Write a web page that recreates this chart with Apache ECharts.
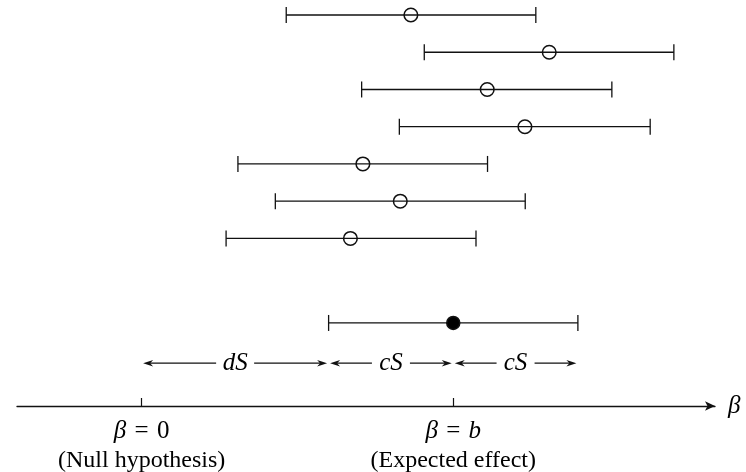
<!DOCTYPE html>
<html>
<head>
<meta charset="utf-8">
<script src="https://cdn.jsdelivr.net/npm/echarts@6/dist/echarts.min.js"></script>
<style>html,body{margin:0;padding:0;background:#fff}#chart{width:746px;height:472px}</style>
</head>
<body>
<div id="chart"></div>
<script>
// Simulated trial confidence intervals (x in units where b = 10)
const trialLower    = [4.64, 9.07, 7.06, 8.27, 3.09, 4.29, 2.71];
const trialEstimate = [8.64, 13.08, 11.09, 12.30, 7.10, 8.30, 6.70];
const trialUpper    = [12.65, 17.08, 15.09, 16.32, 11.10, 12.31, 10.73];
const trialRow      = [10.5, 9.5, 8.5, 7.5, 6.5, 5.5, 4.5];

// Expected-effect interval (filled point)
const expectedInterval = [6, 10, 14];   // lower, estimate, upper
const expectedRow = 2.23;

// Dimension arrows
const spanStart  = [0, 6, 10];
const spanEnd    = [6, 10, 14];
const spanLabels = ['dS', 'cS', 'cS'];
const spanRow = 1.15;

// Axis ticks
const tickValues = [0, 10];
const tickRhs    = ['0', 'b'];
const tickNotes  = ['(Null hypothesis)', '(Expected effect)'];

const FONT = 'Liberation Serif';
const INK = '#111';

const intervalData = trialLower.map((lo, i) => [lo, trialEstimate[i], trialUpper[i], trialRow[i], 0]);
intervalData.push([expectedInterval[0], expectedInterval[1], expectedInterval[2], expectedRow, 1]);

const spanData = spanStart.map((s, i) => [s, spanEnd[i], spanRow, i]);

function renderInterval(params, api) {
  const lo = api.coord([api.value(0), api.value(3)]);
  const c  = api.coord([api.value(1), api.value(3)]);
  const hi = api.coord([api.value(2), api.value(3)]);
  const filled = api.value(4) === 1;
  const cap = 8;
  const ls = { stroke: INK, lineWidth: 1.3 };
  return {
    type: 'group',
    children: [
      { type: 'line', shape: { x1: lo[0], y1: lo[1], x2: hi[0], y2: hi[1] }, style: ls },
      { type: 'line', shape: { x1: lo[0], y1: lo[1] - cap, x2: lo[0], y2: lo[1] + cap }, style: ls },
      { type: 'line', shape: { x1: hi[0], y1: hi[1] - cap, x2: hi[0], y2: hi[1] + cap }, style: ls },
      { type: 'circle', shape: { cx: c[0], cy: c[1], r: filled ? 6.5 : 6.8 },
        style: { fill: filled ? '#000' : 'none', stroke: INK, lineWidth: 1.5 } }
    ]
  };
}

function arrowHead(tipX, y, dir) {
  // dir = -1 points left, +1 points right
  const len = 10, half = 3.2;
  return {
    type: 'polygon',
    shape: { points: [[tipX, y], [tipX - dir * len, y - half], [tipX - dir * len * 0.7, y], [tipX - dir * len, y + half]] },
    style: { fill: INK }
  };
}

function renderSpan(params, api) {
  const a = api.coord([api.value(0), api.value(2)]);
  const b = api.coord([api.value(1), api.value(2)]);
  const label = spanLabels[api.value(3)];
  const y = a[1];
  const x0 = a[0] + 1.5, x1 = b[0] - 1.5;
  const mid = (a[0] + b[0]) / 2;
  const gap = 19;
  const ls = { stroke: INK, lineWidth: 1.2 };
  return {
    type: 'group',
    children: [
      { type: 'line', shape: { x1: x0 + 4, y1: y, x2: mid - gap, y2: y }, style: ls },
      { type: 'line', shape: { x1: mid + gap, y1: y, x2: x1 - 4, y2: y }, style: ls },
      arrowHead(x0, y, -1),
      arrowHead(x1, y, 1),
      { type: 'text', style: { text: label, x: mid, y: y, textAlign: 'center', textVerticalAlign: 'middle',
        fontStyle: 'italic', fontSize: 25, fontFamily: FONT, fill: '#000' } }
    ]
  };
}

const chart = echarts.init(document.getElementById('chart'), null, { renderer: 'canvas' });
chart.setOption({
  animation: false,
  backgroundColor: '#fff',
  grid: { left: 17, right: 31, top: 15, bottom: 66, containLabel: false, outerBoundsMode: 'none' },
  xAxis: {
    type: 'value',
    min: -4,
    max: 18.4,
    splitLine: { show: false },
    axisLine: { show: true, onZero: false, lineStyle: { color: INK, width: 1.3 },
      symbol: ['none', 'arrow'], symbolSize: [7, 10] },
    axisTick: { show: true, inside: true, length: 8, customValues: tickValues, lineStyle: { color: INK, width: 1.2 } },
    axisLabel: {
      show: true,
      customValues: tickValues,
      margin: 10,
      color: '#000',
      fontFamily: FONT,
      fontSize: 24,
      lineHeight: 30,
      formatter: function (v) {
        const i = tickValues.indexOf(v);
        if (i < 0) return '';
        const rhs = tickRhs[i] === 'b' ? '{m|b}' : '{r|' + tickRhs[i] + '}';
        return '{m|β}{r|\u2004=\u2004}' + rhs + '\n{n|' + tickNotes[i] + '}';
      },
      rich: {
        m: { fontStyle: 'italic', fontFamily: FONT, fontSize: 25, lineHeight: 30, color: '#000' },
        r: { fontFamily: FONT, fontSize: 25, lineHeight: 30, color: '#000' },
        n: { fontFamily: FONT, fontSize: 24, lineHeight: 30, color: '#000' }
      }
    },
    name: 'β',
    nameLocation: 'end',
    nameGap: 13,
    nameTextStyle: { fontStyle: 'italic', fontFamily: FONT, fontSize: 25, color: '#000', verticalAlign: 'middle' }
  },
  yAxis: {
    type: 'value',
    min: 0,
    max: 10.5,
    show: false
  },
  series: [
    { type: 'custom', name: 'intervals', renderItem: renderInterval, data: intervalData, clip: false,
      encode: { x: [0, 1, 2], y: 3 } },
    { type: 'custom', name: 'spans', renderItem: renderSpan, data: spanData, clip: false,
      encode: { x: [0, 1], y: 2 } }
  ]
});
</script>
</body>
</html>
